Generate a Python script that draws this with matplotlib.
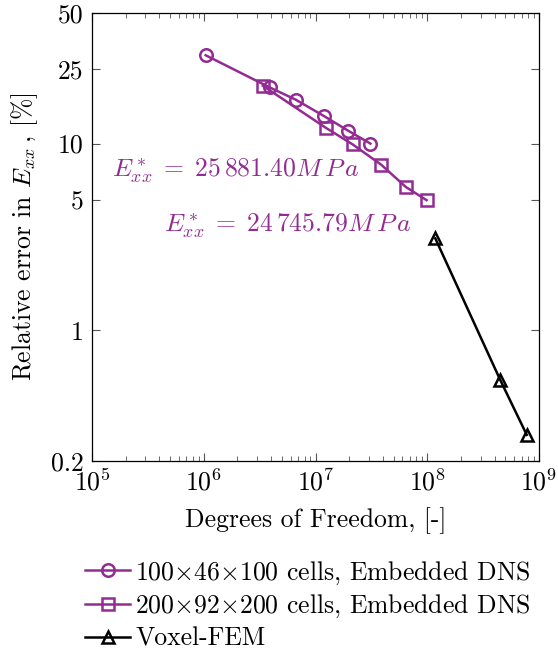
import matplotlib
matplotlib.use("Agg")
import matplotlib.pyplot as plt
from matplotlib.ticker import LogLocator, FixedLocator, FixedFormatter, NullLocator

plt.rcParams["font.family"] = "serif"
plt.rcParams["font.serif"] = ["cmr10", "DejaVu Serif"]
plt.rcParams["mathtext.fontset"] = "cm"
plt.rcParams["axes.formatter.use_mathtext"] = True

# Werte
dof_coarse = [1.04e6, 3.88e6, 6.63e6, 1.20e7, 1.97e7, 3.10e7]
err_coarse = [29.7, 20.0, 17.2, 14.0, 11.7, 10.0]

dof_fine = [3.38e6, 1.25e7, 2.15e7, 3.88e7, 6.45e7, 9.86e7]
err_fine = [20.4, 12.1, 9.9, 7.7, 5.85, 4.98]

dof_voxel = [1.18e8, 4.48e8, 7.77e8]
err_voxel = [3.11, 0.546, 0.276]

y_ticks = [0.2, 1, 5, 10, 25, 50]
y_labels = ["0.2", "1", "5", "10", "25", "50"]

purple = "#922C92"
fs = 18.5

fig = plt.figure(figsize=(5.58, 6.55), dpi=100)
ax = fig.add_axes([92 / 558, 1 - 461 / 655, (539 - 92) / 558, (461 - 13) / 655])

ax.plot(dof_coarse, err_coarse, color=purple, lw=1.8, marker="o", ms=9,
        mfc="none", mew=1.8, label=r"100$\times$46$\times$100 cells, Embedded DNS")
ax.plot(dof_fine, err_fine, color=purple, lw=1.8, marker="s", ms=8.5,
        mfc="none", mew=1.8, label=r"200$\times$92$\times$200 cells, Embedded DNS")
ax.plot(dof_voxel, err_voxel, color="black", lw=1.8, marker="^", ms=8,
        mfc="none", mew=1.8, label="Voxel-FEM")

ax.set_xscale("log")
ax.set_yscale("log")
ax.set_xlim(1e5, 1e9)
ax.set_ylim(0.2, 50)

ax.xaxis.set_major_locator(LogLocator(base=10, numticks=10))
ax.xaxis.set_minor_locator(LogLocator(base=10, subs=range(2, 10), numticks=10))
ax.yaxis.set_major_locator(FixedLocator(y_ticks))
ax.yaxis.set_major_formatter(FixedFormatter(y_labels))
ax.yaxis.set_minor_locator(NullLocator())

ax.tick_params(which="both", direction="in", top=True, right=True,
               color="#555555", labelsize=fs, pad=6)
ax.tick_params(which="major", length=6, width=0.8)
ax.tick_params(which="minor", length=3.5, width=0.6)
for s in ax.spines.values():
    s.set_linewidth(0.9)

ax.set_xlabel("Degrees of Freedom, [-]", fontsize=fs, labelpad=8)
ax.set_ylabel(r"Relative error in $E_{xx}\,$, [%]", fontsize=fs, labelpad=8)

ax.text(1.5e5, 7.2, r"$E^*_{xx} \;=\; 25\,881.40 M\,P\,a$", color=purple, fontsize=fs,
        va="center", ha="left")
ax.text(4.4e5, 3.65, r"$E^*_{xx} \;=\; 24\,745.79 M\,P\,a$", color=purple, fontsize=fs,
        va="center", ha="left")

fig.legend(loc="upper left", bbox_to_anchor=(75 / 558, 1 - 549 / 655),
           frameon=False, fontsize=fs, handlelength=1.75, handletextpad=0.2,
           labelspacing=0.25, borderaxespad=0)

fig.savefig("out.png", dpi=100)
